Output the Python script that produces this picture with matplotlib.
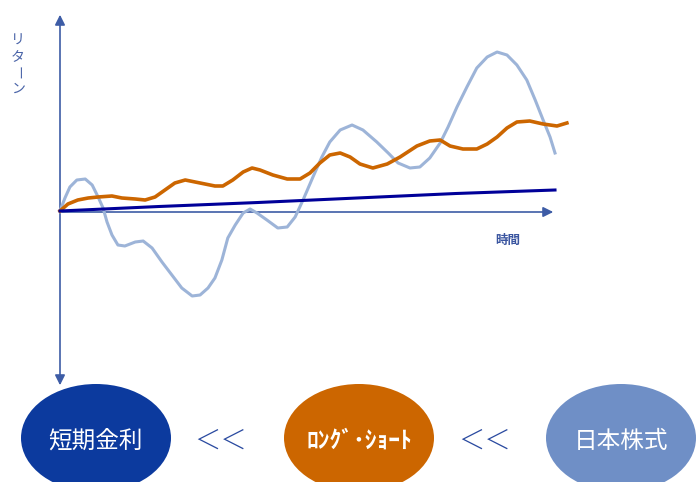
import numpy as np
import matplotlib
matplotlib.use("Agg")
import matplotlib.pyplot as plt
from matplotlib.patches import Ellipse

plt.rcParams['font.family'] = ['Noto Sans CJK JP', 'DejaVu Sans']

# time (0-100) and return values
t_stock = [0.0, 1.0, 2.0, 3.4, 5.1, 6.5, 7.7, 8.7, 9.5, 10.5, 11.7, 13.1, 15.2, 16.8,
           18.6, 20.6, 22.6, 24.6, 26.7, 28.3, 29.9, 31.3, 32.7, 33.9, 35.4, 37.0,
           38.4, 39.8, 41.8, 44.0, 45.9, 47.5, 49.1, 51.1, 52.9, 54.5, 56.6, 59.0,
           61.2, 64.0, 66.3, 68.3, 70.7, 72.7, 74.7, 76.8, 78.4, 80.2, 82.2, 84.2,
           86.3, 88.3, 90.3, 92.3, 94.3, 96.0, 97.6, 99.0, 100.0]
r_stock = [0, 1.3, 2.4, 3.1, 3.2, 2.6, 1.4, 0.3, -1.1, -2.4, -3.4, -3.5, -3.1, -3.0,
           -3.7, -5.1, -6.4, -7.7, -8.5, -8.4, -7.7, -6.7, -4.9, -2.7, -1.4, -0.2,
           0.2, -0.2, -0.9, -1.7, -1.6, -0.6, 1.1, 3.4, 5.4, 6.9, 8.1, 8.6,
           8.1, 6.9, 5.8, 4.8, 4.3, 4.4, 5.3, 6.8, 8.4, 10.4, 12.4, 14.3,
           15.4, 15.9, 15.6, 14.6, 13.1, 11.1, 9.1, 7.4, 5.8]

t_ls = [0, 1.6, 3.6, 5.7, 7.7, 10.5, 12.5, 15.2, 17.2, 19.2, 21.2, 23.2, 25.3, 27.3,
        29.3, 31.3, 32.9, 34.9, 37.0, 38.8, 40.4, 43.0, 45.9, 48.5, 50.5, 52.5,
        54.5, 56.6, 58.6, 60.6, 63.2, 66.1, 68.7, 72.1, 74.7, 76.8, 78.8, 81.4,
        84.2, 86.3, 88.3, 90.3, 92.3, 94.9, 97.6, 100.4, 102.4]
r_ls = [0, 0.7, 1.1, 1.3, 1.4, 1.5, 1.3, 1.2, 1.1, 1.4, 2.1, 2.8, 3.1, 2.9,
        2.7, 2.5, 2.5, 3.1, 3.9, 4.3, 4.1, 3.6, 3.2, 3.2, 3.8, 4.8,
        5.6, 5.8, 5.4, 4.7, 4.3, 4.7, 5.4, 6.5, 7.0, 7.1, 6.5, 6.2,
        6.2, 6.7, 7.4, 8.3, 8.9, 9.0, 8.7, 8.5, 8.8]

t_cash = [0, 20, 40, 60, 80, 100]
r_cash = [0, 0.45, 0.85, 1.3, 1.75, 2.1]

boxes = ['短期金利', 'ﾛﾝｸﾞ･ｼｮｰﾄ', '日本株式']
box_colors = ['#0c3a9e', '#cc6600', '#6f8fc6']
ylabel_chars = ['リ', 'タ', 'ー', 'ン']

fig = plt.figure(figsize=(6.98, 4.82), dpi=100)

# overlay in pixel coordinates for arrows, ellipses and labels
deco = fig.add_axes([0, 0, 1, 1])
deco.set_xlim(0, 698)
deco.set_ylim(482, 0)
deco.axis('off')

axis_col = '#3d5ca6'
arrow = dict(arrowstyle='-|>,head_length=0.6,head_width=0.3', color=axis_col, lw=1.2)
deco.annotate('', xy=(60, 12), xytext=(60, 212), arrowprops=arrow)
deco.annotate('', xy=(60, 388), xytext=(60, 211), arrowprops=arrow)
deco.annotate('', xy=(556, 212), xytext=(59, 212), arrowprops=arrow)

for i, ch in enumerate(ylabel_chars):
    deco.text(18, 41 + i * 16, ch, fontsize=10, color='#4a64a8', ha='center', va='center',
              rotation=-90 if ch == 'ー' else 0)
deco.text(508, 240, '時間', fontsize=9, color='#3a55a0', ha='center', va='center',
          fontweight='bold')

centers = [96, 359, 621]
for cx, name, col in zip(centers, boxes, box_colors):
    deco.add_patch(Ellipse((cx, 438), 150, 108, facecolor=col, edgecolor='none'))
    if name.startswith('ﾛ'):
        deco.text(cx, 441, name, fontsize=17, color='white', ha='center', va='center',
                  fontweight='bold')
    else:
        deco.text(cx, 441, name, fontsize=17, color='white', ha='center', va='center')
for x in [221, 485]:
    deco.text(x, 441, '＜＜', fontsize=19, color='#2a4aa0', ha='center', va='center',
              fontweight='light')

# chart axes: origin at pixel (60, 211)
ax = fig.add_axes([0, 0, 1, 1], facecolor='none')
ax.set_xlim(-60 / 4.95, 638 / 4.95)
ax.set_ylim(-27.1, 21.1)
ax.axis('off')

ax.plot(t_stock, r_stock, color='#9db4d8', lw=2.2, solid_joinstyle='round')
ax.plot(t_ls, r_ls, color='#cc6600', lw=2.6, solid_joinstyle='round')
ax.plot(t_cash, r_cash, color='#000099', lw=2.2)

fig.savefig('out.png', dpi=100)
